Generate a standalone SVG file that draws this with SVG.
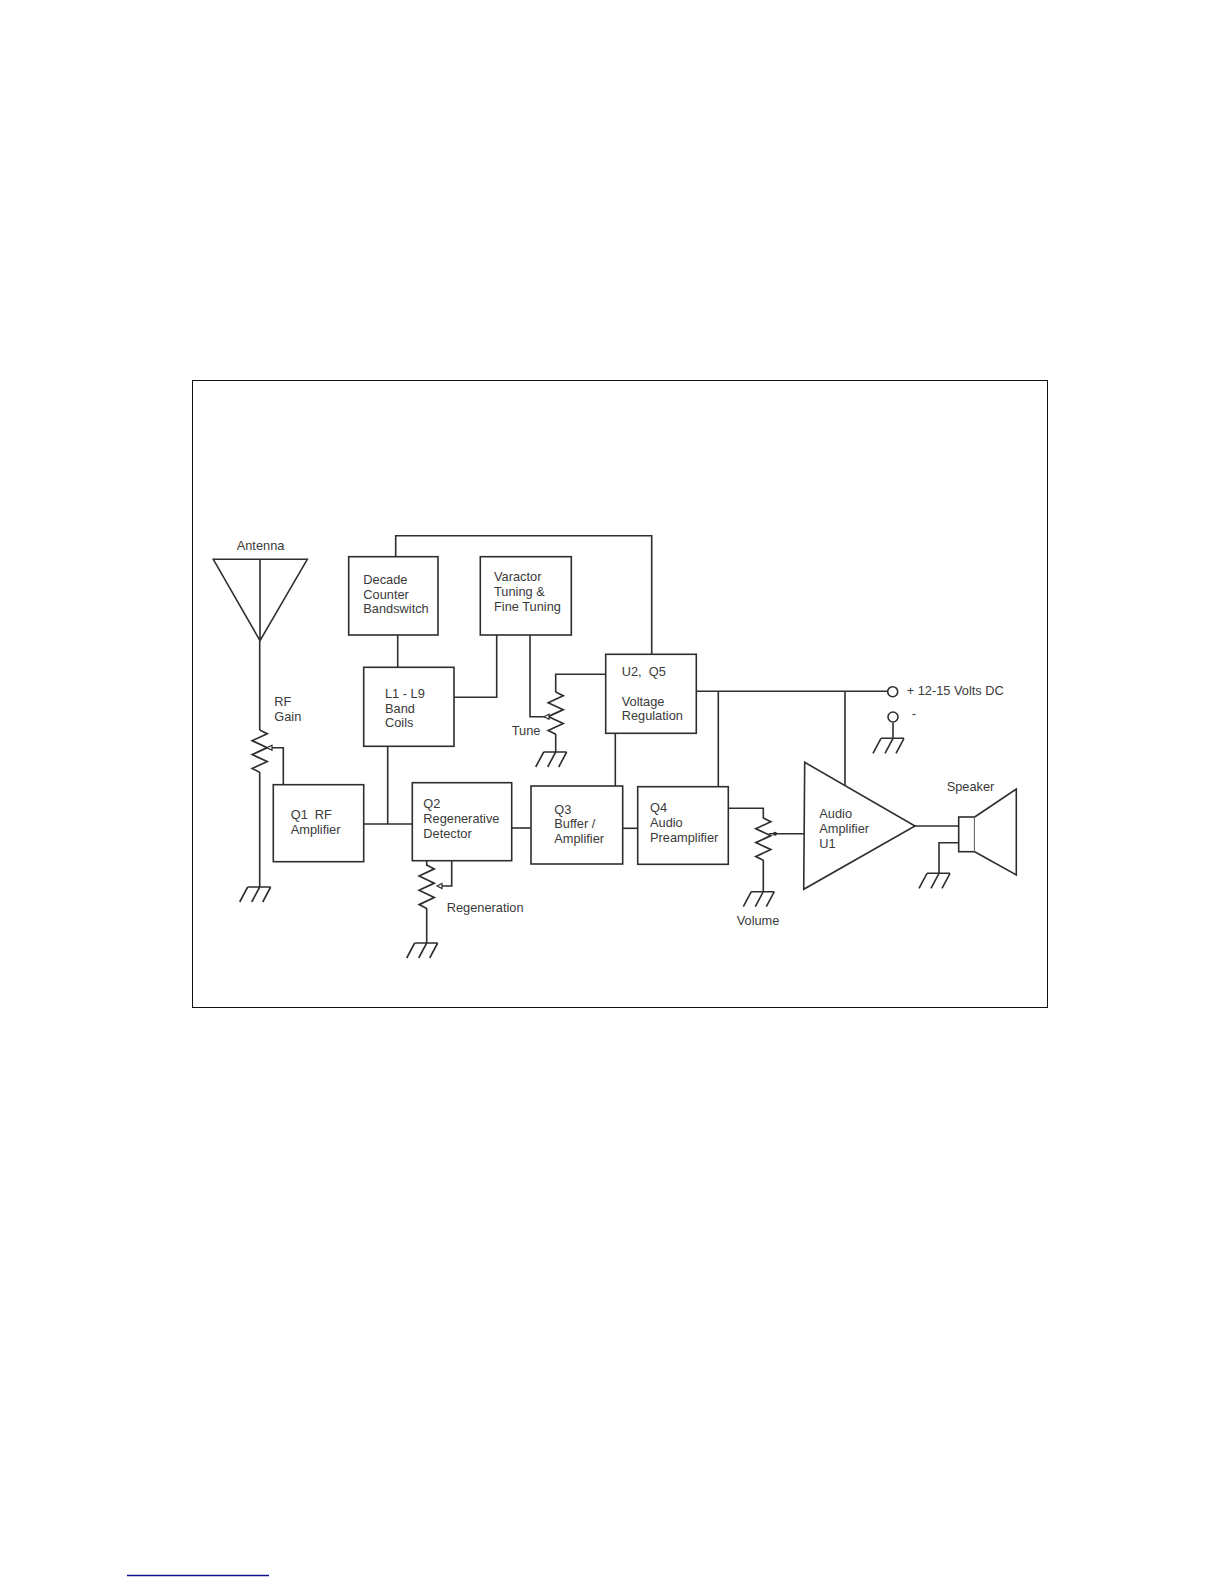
<svg xmlns="http://www.w3.org/2000/svg" width="1224" height="1584" viewBox="0 0 1224 1584">
<style>
.w{fill:none;stroke:#2e2e2e;stroke-width:1.6;stroke-linejoin:miter}
.b{fill:#fff;stroke:#2e2e2e;stroke-width:1.6}
.t{font-family:"Liberation Sans",Arial,sans-serif;font-size:12.8px;fill:#3a3a3a}
</style>
<defs>
<path id="gnd" class="w" d="M-12 0H11M-12 0l-8 15M0 0l-8 15M11 0l-8 15"/>
<path id="res" class="w" d="M0 0L7.5 3.5L-7.5 10L7.5 16.5L-7.5 23L7.5 29.5L-7.5 36L0 39.5"/>
<path id="wip" fill="#fff" stroke="#2e2e2e" stroke-width="1.2" d="M0 0L5 -2.5V2.5Z"/>
</defs>
<rect width="1224" height="1584" fill="#fff"/>
<rect id="frame" x="192.5" y="380.5" width="855" height="627" fill="none" stroke="#111" stroke-width="1"/>
<line id="footnote-rule" x1="127" y1="1575.5" x2="269" y2="1575.5" stroke="#10108a" stroke-width="1.5"/>
<g id="connectors">
<path class="w" d="M395.7 556.7V535.7H651.7V654.3"/>
<path class="w" d="M397.7 635V667.3"/>
<path class="w" d="M496.7 635V697.3H454"/>
<path class="w" d="M530 635V716.7H546"/>
<path class="w" d="M605.7 674.3H555.7V692"/>
<path class="w" d="M555.7 734V752"/>
<path class="w" d="M259.7 640.7V730M259.7 772V887"/>
<path class="w" d="M268 747.7H283.3V784.7"/>
<path class="w" d="M363.7 824H412.3M387.7 746.3V824"/>
<path class="w" d="M511.7 828H531"/>
<path class="w" d="M622.7 828.3H637.7"/>
<path class="w" d="M615.3 733.3V786"/>
<path class="w" d="M696.3 691.3H887.7M718.3 691.3V786.7M845 691.3V785"/>
<path class="w" d="M893 722.7V738.3"/>
<path class="w" d="M426.7 860.7V866M426.7 908V943"/>
<path class="w" d="M438 886H451.7V860.7"/>
<path class="w" d="M728.3 808.3H763.3V818.5M763.3 860V891.7"/>
<path class="w" d="M769 833.7H804"/>
<path class="w" d="M915 826H958.7"/>
<path class="w" d="M958.7 842.7H939V873.3"/>
</g>
<g id="antenna">
<path class="w" d="M213.3 559.3H307.3L260 640.7ZM260 559.3V640.7"/>
<text class="t" x="236.7" y="550">Antenna</text>
</g>
<g id="rf-gain">
<use href="#res" transform="translate(259.7 730) scale(1 1.07)"/>
<use href="#wip" x="267" y="747.7"/>
<use href="#gnd" x="259.7" y="887"/>
<text class="t" x="274.3" y="706">RF</text>
<text class="t" x="274.3" y="720.7">Gain</text>
</g>
<g id="decade">
<rect class="b" x="348.7" y="556.7" width="89.3" height="78.3"/>
<text class="t" x="363.3" y="584">Decade</text>
<text class="t" x="363.3" y="599">Counter</text>
<text class="t" x="363.3" y="613.3">Bandswitch</text>
</g>
<g id="varactor">
<rect class="b" x="480.3" y="556.7" width="91" height="78.3"/>
<text class="t" x="494" y="581">Varactor</text>
<text class="t" x="494" y="595.7">Tuning &amp;</text>
<text class="t" x="494" y="610.7">Fine Tuning</text>
</g>
<g id="coils">
<rect class="b" x="363.7" y="667.3" width="90.3" height="79"/>
<text class="t" x="385" y="697.7">L1 - L9</text>
<text class="t" x="385" y="712.7">Band</text>
<text class="t" x="385" y="727.3">Coils</text>
</g>
<g id="tune">
<use href="#res" transform="translate(555.7 692) scale(1 1.07)"/>
<use href="#wip" x="544" y="716.7"/>
<use href="#gnd" x="555.7" y="752"/>
<text class="t" x="511.7" y="735">Tune</text>
</g>
<g id="regulator">
<rect class="b" x="605.7" y="654.3" width="90.6" height="79"/>
<text class="t" xml:space="preserve" x="621.7" y="676">U2,  Q5</text>
<text class="t" x="621.7" y="705.7">Voltage</text>
<text class="t" x="621.7" y="720">Regulation</text>
</g>
<g id="q1">
<rect class="b" x="273.3" y="784.7" width="90.4" height="77"/>
<text class="t" xml:space="preserve" x="290.7" y="819">Q1  RF</text>
<text class="t" x="290.7" y="834">Amplifier</text>
</g>
<g id="q2">
<rect class="b" x="412.3" y="782.7" width="99.4" height="78"/>
<text class="t" x="423.3" y="807.7">Q2</text>
<text class="t" x="423.3" y="823.3">Regenerative</text>
<text class="t" x="423.3" y="837.7">Detector</text>
</g>
<g id="regeneration">
<use href="#res" transform="translate(426.7 865) scale(1 1.1)"/>
<use href="#wip" x="437" y="886"/>
<use href="#gnd" x="426.7" y="943"/>
<text class="t" x="446.7" y="911.7">Regeneration</text>
</g>
<g id="q3">
<rect class="b" x="531" y="786" width="91.7" height="78"/>
<text class="t" x="554.3" y="814">Q3</text>
<text class="t" x="554.3" y="828.3">Buffer /</text>
<text class="t" x="554.3" y="843.3">Amplifier</text>
</g>
<g id="q4">
<rect class="b" x="637.7" y="786.7" width="90.6" height="77.6"/>
<text class="t" x="650" y="812.3">Q4</text>
<text class="t" x="650" y="826.7">Audio</text>
<text class="t" x="650" y="841.7">Preamplifier</text>
</g>
<g id="volume">
<use href="#res" transform="translate(763.3 818) scale(1 1.07)"/>
<circle cx="775" cy="833.7" r="2" fill="#2e2e2e"/>
<use href="#gnd" x="763.3" y="891.7"/>
<text class="t" x="736.7" y="924.7">Volume</text>
</g>
<g id="amplifier">
<path class="b" d="M804.7 762.3L915 826L803.7 889.3Z"/>
<text class="t" x="819.3" y="818.3">Audio</text>
<text class="t" x="819.3" y="832.7">Amplifier</text>
<text class="t" x="819.3" y="847.7">U1</text>
</g>
<g id="speaker">
<rect class="b" x="958.7" y="817" width="16" height="34.7"/>
<path class="b" d="M974.7 817L1016.3 789V875L974.7 851.7"/>
<use href="#gnd" x="939" y="873.3"/>
<text class="t" x="946.7" y="790.7">Speaker</text>
</g>
<g id="power-plus">
<circle class="b" cx="892.7" cy="691.7" r="5"/>
<text class="t" x="906.7" y="695.3">+ 12-15 Volts DC</text>
</g>
<g id="power-minus">
<circle class="b" cx="893" cy="717" r="5"/>
<use href="#gnd" x="893" y="738.3"/>
<text class="t" x="911.7" y="718">-</text>
</g>
</svg>
